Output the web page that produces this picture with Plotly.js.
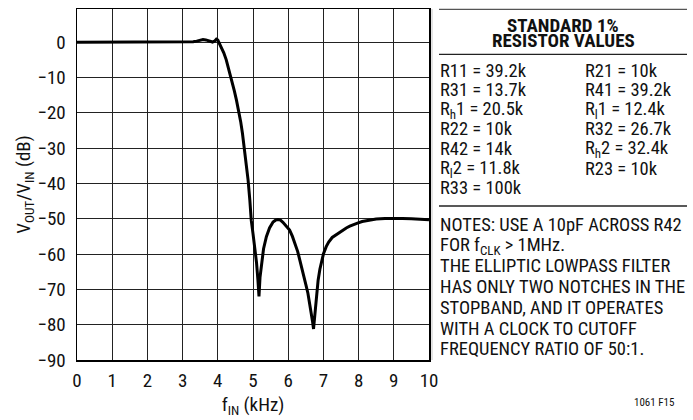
<!DOCTYPE html>
<html>
<head>
<meta charset="utf-8">
<script src="https://cdn.plot.ly/plotly-3.0.1.min.js"></script>
<style>html,body{margin:0;padding:0;background:#fff;}#chart{width:693px;height:420px;}</style>
</head>
<body>
<div id="chart"></div>
<script>
// ---- data ----
const freqKHz = [0, 0.5, 1, 1.5, 2, 2.5, 3, 3.2, 3.3, 3.4, 3.5, 3.58, 3.66, 3.75, 3.85, 3.92, 3.96, 4.0, 4.05, 4.1, 4.17, 4.24, 4.32, 4.4, 4.47, 4.53, 4.6, 4.65, 4.7, 4.76, 4.81, 4.86, 4.91, 4.95, 5.0, 5.05, 5.1, 5.14, 5.17, 5.2, 5.24, 5.3, 5.38, 5.47, 5.57, 5.64, 5.71, 5.78, 5.85, 5.95, 6.04, 6.12, 6.2, 6.27, 6.33, 6.4, 6.45, 6.5, 6.56, 6.61, 6.65, 6.69, 6.72, 6.75, 6.78, 6.81, 6.85, 6.9, 6.95, 7.0, 7.08, 7.15, 7.25, 7.35, 7.46, 7.55, 7.65, 7.75, 7.84, 7.95, 8.1, 8.3, 8.5, 8.75, 9, 9.25, 9.5, 9.75, 10];
const gainDB  = [0, 0, 0, 0, 0, 0, 0, 0, 0.1, 0.3, 0.55, 0.75, 0.65, 0.35, 0.05, 0.4, 0.85, 0.6, -0.4, -1.5, -3.0, -5.0, -7.8, -11, -13.8, -16.4, -19.7, -22.5, -25.8, -30.6, -34.6, -39, -44.7, -50.4, -54.2, -57.9, -62.4, -67.4, -72, -66.5, -62.6, -58.5, -55.1, -52.6, -50.9, -50.4, -50.2, -50.4, -51, -52.0, -53.2, -55.0, -57, -59.3, -61.7, -64.3, -66.4, -68.6, -71.1, -73.8, -76.3, -79, -81.2, -77.5, -74, -70.6, -67.4, -64.3, -61.8, -60.0, -57.9, -56.6, -55.3, -54.6, -53.9, -53.2, -52.6, -52.1, -51.7, -51.3, -50.8, -50.4, -50.1, -49.9, -49.8, -49.9, -50.0, -50.1, -50.3];

const xTickVals = [0, 1, 2, 3, 4, 5, 6, 7, 8, 9, 10];
const xTickText = ['0', '1', '2', '3', '4', '5', '6', '7', '8', '9', '10'];
const yTickVals = [-90, -80, -70, -60, -50, -40, -30, -20, -10, 0];

const tableTitle = ['STANDARD 1%', 'RESISTOR VALUES'];
const resistorsLeft  = ['R11 = 39.2k', 'R31 = 13.7k', 'R<sub>h</sub>1 = 20.5k', 'R22 = 10k', 'R42 = 14k', 'R<sub>l</sub>2 = 11.8k', 'R33 = 100k'];
const resistorsRight = ['R21 = 10k', 'R41 = 39.2k', 'R<sub>l</sub>1 = 12.4k', 'R32 = 26.7k', 'R<sub>h</sub>2 = 32.4k', 'R23 = 10k'];
const notesLines = ['NOTES: USE A 10pF ACROSS R42', 'FOR f<sub>CLK</sub> > 1MHz.', 'THE ELLIPTIC LOWPASS FILTER', 'HAS ONLY TWO NOTCHES IN THE', 'STOPBAND, AND IT OPERATES', 'WITH A CLOCK TO CUTOFF', 'FREQUENCY RATIO OF 50:1.'];
const figureId = '1061 F15';

// ---- layout helpers ----
const W = 693, H = 420;
const M = {l: 77, r: 264, t: 9, b: 60};
const PW = W - M.l - M.r, PH = H - M.t - M.b;
const px = x => (x - M.l) / PW;
const py = y => (H - M.b - y) / PH;
const FONT = 'Liberation Sans Narrow, Arial Narrow, Roboto Condensed, DejaVu Sans Condensed, sans-serif';
const FS = 19;

const annotations = [];
const addText = (text, x, y, opts) => annotations.push(Object.assign({
  text: text, xref: 'paper', yref: 'paper', x: px(x), y: py(y),
  xanchor: 'left', yanchor: 'middle', showarrow: false, borderpad: 0,
  font: {family: FONT, size: 18.5, color: '#111'}
}, opts || {}));

addText('<b>' + tableTitle[0] + '</b>', 563, 25, {xanchor: 'center', font: {family: FONT, size: 19, color: '#111'}});
addText('<b>' + tableTitle[1] + '</b>', 563, 40.5, {xanchor: 'center', font: {family: FONT, size: 19, color: '#111'}});
resistorsLeft.forEach((t, i) => addText(t, 439, 70.5 + i * 19.6));
resistorsRight.forEach((t, i) => addText(t, 584, 70.5 + i * 19.6));
notesLines.forEach((t, i) => addText(t, 439, 225 + i * 20.7));
addText(figureId, 675, 402, {xanchor: 'right', font: {family: FONT, size: 11, color: '#111'}});

const rule = (y, w, c) => ({type: 'line', xref: 'paper', yref: 'paper', x0: px(439), x1: px(687), y0: py(y), y1: py(y), line: {color: c || '#222', width: w || 1.3}});
const shapes = [
  rule(9.3, 1.3, '#555'), rule(54.3), rule(206),
  {type: 'line', xref: 'paper', yref: 'paper', x0: px(432), x1: px(432), y0: 0, y1: 1, line: {color: '#c8c8c8', width: 1}}
];

const trace = {
  x: freqKHz, y: gainDB, type: 'scatter', mode: 'lines',
  line: {color: '#000', width: 3, shape: 'linear'}, hoverinfo: 'skip'
};

const layout = {
  width: W, height: H, margin: M,
  paper_bgcolor: '#fff', plot_bgcolor: '#fff',
  showlegend: false,
  font: {family: FONT, size: FS, color: '#111'},
  xaxis: {
    range: [0, 10], tickvals: xTickVals, ticktext: xTickText, ticks: '',
    ticklabelstandoff: 3,
    showgrid: true, gridcolor: '#222', gridwidth: 1, zeroline: false,
    showline: true, mirror: true, linecolor: '#000', linewidth: 1.5,
    tickfont: {family: FONT, size: FS, color: '#111'},
    title: {text: 'f<sub>IN</sub> (kHz)', font: {family: FONT, size: FS, color: '#111'}, standoff: 6},
    fixedrange: true
  },
  yaxis: {
    range: [-90, 9.4], tickvals: yTickVals, ticks: '',
    ticklabelstandoff: 6,
    showgrid: true, gridcolor: '#222', gridwidth: 1, zeroline: false,
    showline: true, mirror: true, linecolor: '#000', linewidth: 1.5,
    tickfont: {family: FONT, size: FS, color: '#111'},
    title: {text: 'V<sub>OUT</sub>/V<sub>IN</sub> (dB)', font: {family: FONT, size: FS, color: '#111'}, standoff: 1},
    fixedrange: true
  },
  shapes: shapes,
  annotations: annotations
};

Plotly.newPlot('chart', [trace], layout, {displayModeBar: false, staticPlot: true});
</script>
</body>
</html>
